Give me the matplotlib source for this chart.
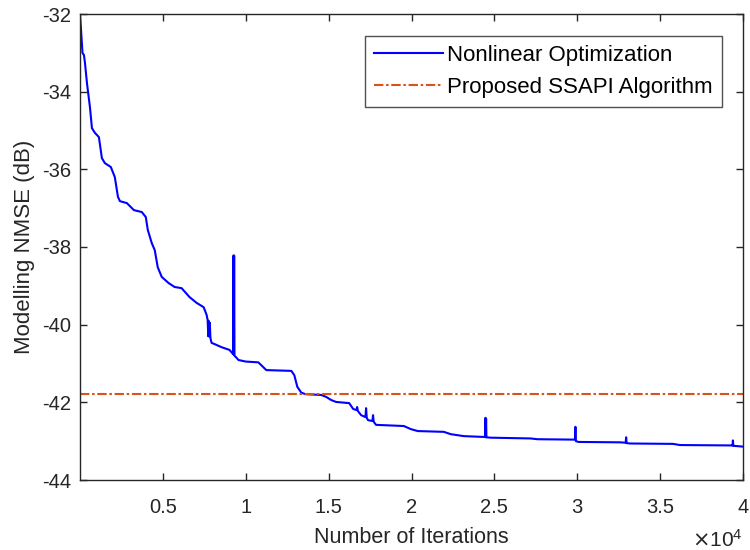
import matplotlib
matplotlib.use("Agg")
import matplotlib.pyplot as plt
from matplotlib.ticker import FuncFormatter

plt.rcParams["font.family"] = ["Liberation Sans", "DejaVu Sans"]
plt.rcParams["axes.unicode_minus"] = False

# NMSE of the nonlinear optimization against iteration count
iterations = [1, 150, 240, 300, 420, 600, 720, 900, 1140, 1320, 1500, 1860, 2100,
              2290, 2410, 2830, 3250, 3730, 3970, 4090, 4330, 4510, 4690, 4930,
              5350, 5710, 6130, 6610, 7040, 7460, 7640, 7700, 7740, 7760, 7800,
              7830, 7870, 7940, 8120, 8540, 9020, 9240, 9260, 9280, 9300, 9320,
              9440, 9560, 10000, 10760, 11240, 12750, 12930, 13110, 13350, 13600,
              14550, 14850, 15150, 15450, 16240, 16480, 16680, 16720, 16760, 16960,
              17220, 17260, 17300, 17380, 17640, 17680, 17720, 17860, 19540, 19960,
              20380, 21950, 22370, 23150, 24290, 24440, 24460, 24480, 24500, 24520,
              24770, 27180, 27600, 29770, 29860, 29890, 29920, 30070, 32590, 32920,
              32950, 32980, 33190, 35780, 36200, 39330, 39370, 39390, 39420, 40000]
nmse_nonlinear = [-32.0, -33.0, -33.06, -33.26, -33.78, -34.4, -34.94, -35.06, -35.17,
                  -35.71, -35.84, -35.94, -36.2, -36.71, -36.82, -36.87, -37.05, -37.1,
                  -37.23, -37.56, -37.9, -38.08, -38.52, -38.77, -38.93, -39.03, -39.06,
                  -39.29, -39.44, -39.55, -39.75, -39.88, -40.3, -39.9, -40.3, -39.95,
                  -40.35, -40.47, -40.5, -40.58, -40.65, -40.76, -38.22, -40.77, -38.22,
                  -40.8, -40.85, -40.91, -40.95, -40.97, -41.17, -41.19, -41.3, -41.6,
                  -41.75, -41.79, -41.81, -41.86, -41.94, -41.99, -42.02, -42.17, -42.2,
                  -42.12, -42.22, -42.33, -42.38, -42.15, -42.4, -42.46, -42.48, -42.33,
                  -42.5, -42.58, -42.61, -42.69, -42.74, -42.76, -42.82, -42.87, -42.89,
                  -42.89, -42.4, -42.9, -42.42, -42.9, -42.91, -42.93, -42.95, -42.96,
                  -42.96, -42.63, -43.0, -43.02, -43.03, -43.04, -42.9, -43.05, -43.06,
                  -43.07, -43.1, -43.11, -43.11, -42.98, -43.12, -43.14]

# NMSE reached by the proposed algorithm (constant)
nmse_ssapi = -41.78

x_ticks = [5000, 10000, 15000, 20000, 25000, 30000, 35000, 40000]
y_ticks = [-44, -42, -40, -38, -36, -34, -32]

fig = plt.figure(figsize=(7.5, 5.5), dpi=100)
ax = fig.add_axes([80 / 750, 1 - 480 / 550, 663 / 750, 466 / 550])

ax.plot(iterations, nmse_nonlinear, color="#0000ff", lw=1.5,
        label="Nonlinear Optimization")
ax.axhline(nmse_ssapi, color="#d95319", lw=1.5, linestyle=(0, (4.5, 1.3, 1.2, 1.3)),
           label="Proposed SSAPI Algorithm")

ax.set_xlim(0, 40000)
ax.set_ylim(-44, -32)
ax.set_xticks(x_ticks)
ax.set_yticks(y_ticks)
ax.xaxis.set_major_formatter(FuncFormatter(lambda v, p: f"{v / 1e4:g}"))

grey = "#262626"
for s in ax.spines.values():
    s.set_color(grey)
    s.set_linewidth(1.0)
ax.tick_params(direction="in", top=True, right=True, length=5, width=1.0,
               colors=grey, labelsize=14.5)
ax.tick_params(axis="x", pad=13)
ax.tick_params(axis="y", pad=6.5)

ax.set_xlabel("Number of Iterations", fontsize=15.5, color=grey, labelpad=7)
ax.set_ylabel("Modelling NMSE (dB)", fontsize=16, color=grey, labelpad=5)
fig.text(743 / 750, 1 - 547 / 550, r"$\times\mathregular{10^{4}}$", ha="right",
         va="baseline", fontsize=15, color=grey)

leg = ax.legend(loc="upper right", bbox_to_anchor=(1 - 21 / 663, 1 - 22 / 466),
                fontsize=16, handlelength=3.1, frameon=True, fancybox=False,
                borderpad=0.4, labelspacing=0.5, handletextpad=0.2,
                borderaxespad=0)
leg.get_frame().set_edgecolor(grey)
leg.get_frame().set_linewidth(1.0)

fig.savefig("out.png", dpi=100)
